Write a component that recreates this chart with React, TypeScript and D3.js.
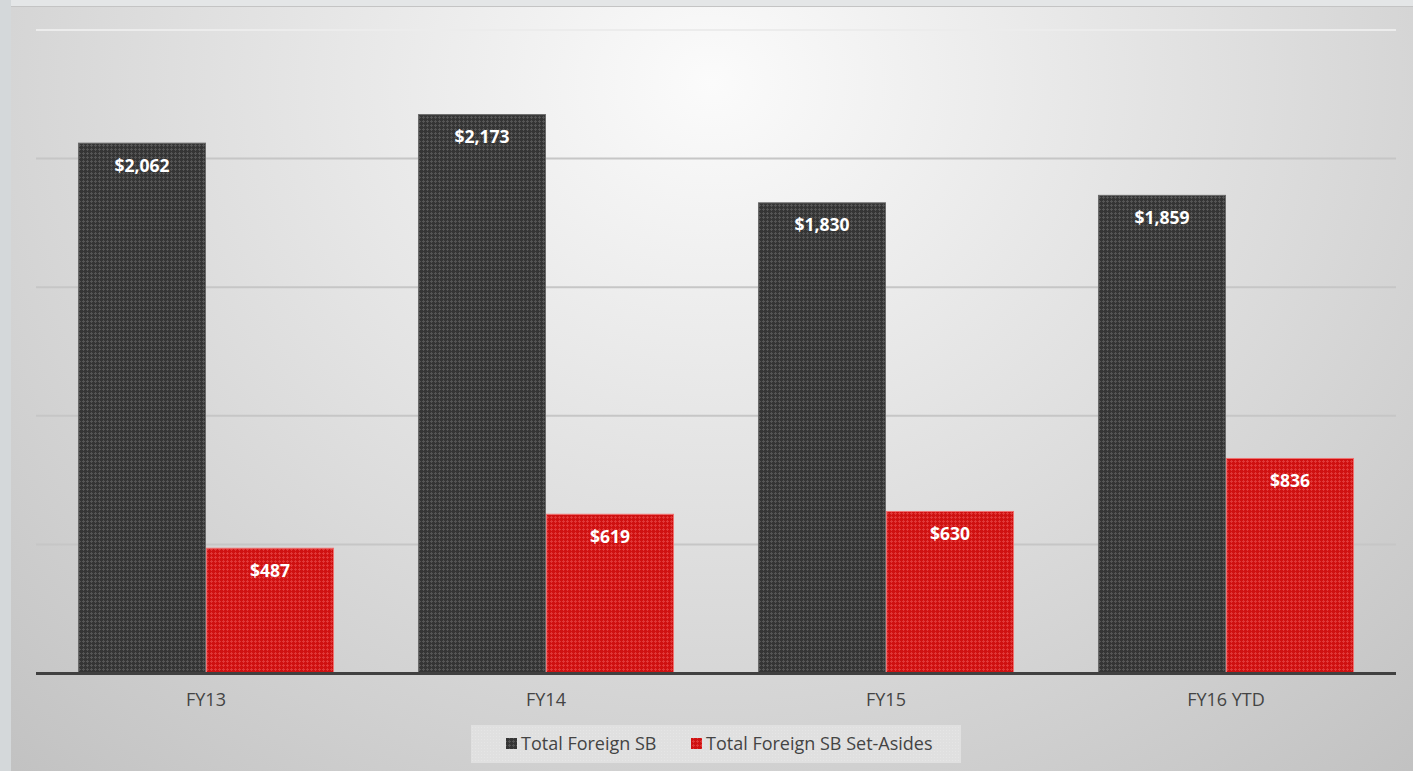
import React from "react";
import * as d3 from "d3";

const categories = ["FY13", "FY14", "FY15", "FY16 YTD"];
const totalForeignSB = [2062, 2173, 1830, 1859];
const setAsides = [487, 619, 630, 836];
const seriesNames = ["Total Foreign SB", "Total Foreign SB Set-Asides"];
const yTicks = [0, 500, 1000, 1500, 2000, 2500];

const W = 1413;
const H = 771;
const plotLeft = 36;
const plotRight = 1396;
const plotTop = 30;
const plotBottom = 673;
const fontFamily = "'Open Sans', Lato, sans-serif";

export default function App() {
  const x0 = d3.scaleBand<string>().domain(categories).range([plotLeft, plotRight]).paddingInner(0.247).paddingOuter(0.1235);
  const x1 = d3.scaleBand<string>().domain(["a", "b"]).range([0, x0.bandwidth()]).padding(0);
  const y = d3.scaleLinear().domain([0, 2500]).range([plotBottom, plotTop]);
  const fmt = (v: number) => "$" + d3.format(",")(v);

  const series = [
    { key: "a", values: totalForeignSB, fill: "url(#patDark)", stroke: "#6a6a6a" },
    { key: "b", values: setAsides, fill: "url(#patRed)", stroke: "#f07070" },
  ];

  return (
    <svg width={W} height={H} style={{ position: "absolute", left: 0, top: 0 }} fontFamily={fontFamily}>
      <defs>
        <radialGradient id="bg" cx="0.5" cy="0.1" r="0.75" gradientTransform="translate(0.5,0.1) scale(1,1.6) translate(-0.5,-0.1)">
          <stop offset="0" stopColor="#fbfbfb" />
          <stop offset="0.55" stopColor="#dcdcdc" />
          <stop offset="1" stopColor="#c2c2c2" />
        </radialGradient>
        <pattern id="patDark" width="4" height="4" patternUnits="userSpaceOnUse">
          <rect width="4" height="4" fill="#353535" />
          <rect x="1" y="0" width="1" height="3" fill="#555" />
          <rect x="0" y="1" width="3" height="1" fill="#555" />
        </pattern>
        <pattern id="patRed" width="4" height="4" patternUnits="userSpaceOnUse">
          <rect width="4" height="4" fill="#cf1111" />
          <rect x="1" y="0" width="1" height="3" fill="#e03838" />
          <rect x="0" y="1" width="3" height="1" fill="#e03838" />
        </pattern>
        <pattern id="patLegend" width="3" height="3" patternUnits="userSpaceOnUse">
          <rect width="3" height="3" fill="#e0e0e0" />
          <rect x="1" y="1" width="1" height="1" fill="#e6e6e6" />
        </pattern>
      </defs>
      <rect x={0} y={0} width={W} height={H} fill="#e4e6e7" />
      <rect x={0} y={0} width={11} height={H} fill="#d4d8da" />
      <rect x={11} y={6} width={W - 11} height={H - 6} fill="url(#bg)" />
      <line x1={11} x2={W} y1={6.5} y2={6.5} stroke="#c4c4c4" strokeWidth={1} />

      {yTicks.filter((t) => t > 0).map((t) => (
        <line key={t} x1={plotLeft} x2={plotRight} y1={y(t)} y2={y(t)} stroke={t === 2500 ? "#ececec" : "#c6c6c6"} strokeWidth={2} />
      ))}

      {categories.map((c, i) => (
        <g key={c} transform={`translate(${x0(c)},0)`}>
          {series.map((s) => {
            const v = s.values[i];
            const bx = x1(s.key)!;
            const bw = x1.bandwidth();
            return (
              <g key={s.key}>
                <rect x={bx + 0.5} y={y(v) + 0.5} width={bw - 1} height={plotBottom - y(v) - 0.5} fill={s.fill} stroke={s.stroke} strokeWidth={1} />
                <text x={bx + bw / 2} y={y(v) + 29} textAnchor="middle" fill="#ffffff" fontWeight="bold" fontSize={17.5}>
                  {fmt(v)}
                </text>
              </g>
            );
          })}
          <text x={x0.bandwidth() / 2} y={706} textAnchor="middle" fill="#444" fontSize={18}>
            {c}
          </text>
        </g>
      ))}

      <line x1={plotLeft} x2={plotRight} y1={plotBottom + 0.5} y2={plotBottom + 0.5} stroke="#404040" strokeWidth={3} />

      <rect x={471} y={725} width={490} height={38} fill="url(#patLegend)" />
      <g>
        <rect x={506} y={738} width={11} height={11} fill="url(#patDark)" />
        <text x={521} y={750} fill="#444" fontSize={18}>{seriesNames[0]}</text>
        <rect x={691} y={738} width={11} height={11} fill="url(#patRed)" />
        <text x={706} y={750} fill="#444" fontSize={18}>{seriesNames[1]}</text>
      </g>
    </svg>
  );
}
